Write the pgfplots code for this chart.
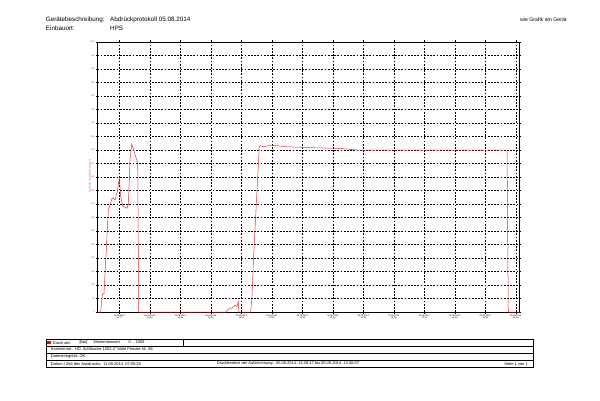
\documentclass[border=0pt]{standalone}
\usepackage{fontspec}
\setmainfont{Liberation Sans}
\usepackage{pgfplots}
\pgfplotsset{compat=1.18}
\definecolor{curve}{RGB}{238,50,55}
\pgfplotstableread{
t p
16.9 0
23.4 0
26.6 65
29.9 68
38.4 378
41.7 396
46.2 423
51.5 415
56.1 446
60.0 495
62.8 427
66.7 393
74.6 384
77.7 396
81.1 563
84.4 622
87.5 606
94.2 563
96.2 551
98.2 0
269.9 0
273.8 10
281.7 15
287.6 25
291.6 20
294.1 38
295.5 0
318.5 0
321.1 60
323.6 180
330.3 427
335.4 612
336.8 616
343.3 612
359.8 618
389.3 612
448.3 608
494.2 606
527.7 600
631.9 600
822.8 600
825.3 0
847 0
}\druck
\begin{document}
\begin{tikzpicture}[x=1pt,y=1pt]
\path[use as bounding box, fill=white] (0,0) rectangle (600,400);
% header
\node[anchor=west, inner sep=0, font=\fontsize{6.3}{7}\selectfont] at (45.7,380) {Gerätebeschreibung:};
\node[anchor=west, inner sep=0, font=\fontsize{6.3}{7}\selectfont] at (110,380) {Abdrückprotokoll 05.08.2014};
\node[anchor=west, inner sep=0, font=\fontsize{6.3}{7}\selectfont] at (45.7,371.7) {Einbauort:};
\node[anchor=west, inner sep=0, font=\fontsize{6.3}{7}\selectfont] at (110,371.7) {HPS};
\node[anchor=west, inner sep=0, font=\fontsize{5.2}{6}\selectfont] at (520,380) {wie Grafik am Gerät};
% y label
\node[rotate=90, inner sep=0, text=curve, font=\fontsize{2.4}{3}\selectfont] at (90,224) {Druck akt. [bar] Momentanwert};
\begin{axis}[
  at={(97.4pt,88pt)}, anchor=south west, scale only axis,
  width=421.9pt, height=270pt,
  xmin=16.9, xmax=847, ymin=0, ymax=1000,
  xtick={60,120,...,840},
  xticklabels={{05.08.2014\\13:27},{05.08.2014\\13:28},{05.08.2014\\13:29},{05.08.2014\\13:30},{05.08.2014\\13:31},{05.08.2014\\13:32},{05.08.2014\\13:33},{05.08.2014\\13:34},{05.08.2014\\13:35},{05.08.2014\\13:36},{05.08.2014\\13:37},{05.08.2014\\13:38},{05.08.2014\\13:39},{05.08.2014\\13:40}},
  xticklabel style={align=center, font=\fontsize{2.2}{2.6}\selectfont, inner sep=1pt},
  ytick={0,50,...,1000},
  yticklabel style={text=curve, font=\fontsize{2.2}{2.6}\selectfont, inner sep=1pt},
  /pgf/number format/assume math mode=true,
  /pgf/number format/1000 sep={},
  grid=major,
  major grid style={black, line width=0.4pt, dash pattern=on 1.8pt off 1.4pt},
  tick align=outside, major tick length=1.5pt,
  tick style={black, line width=0.3pt},
  axis line style={black, line width=0.6pt},
]
\addplot[curve, line width=0.5pt, no marks] table[x=t, y=p] {\druck};
\end{axis}
% table
\begin{scope}[line width=0.4pt]
\draw (45.7,32.5) rectangle (532.7,60.7);
\draw (45.7,54) -- (532.7,54);
\draw (45.7,47) -- (532.7,47);
\draw (45.7,40) -- (532.7,40);
\draw (183.3,54) -- (183.3,60.7);
\end{scope}
\fill[red] (47.4,55.8) rectangle (50.8,59.2);
\begin{scope}[every node/.style={anchor=west, inner sep=0, font=\fontsize{4}{4.8}\selectfont}]
\node at (52.7,57.4) {Druck akt.};
\node at (79.3,57.4) {[bar]};
\node at (93.3,57.4) {Momentanwert};
\node at (128.3,57.4) {0 .. 1000};
\node at (50.7,50.5) {Kommentar:\ \ HD. Schläuche 1002-2" Male Female Nr. 86};
\node at (50.7,43.5) {Datenintegrität: OK};
\node at (50.7,36.2) {Datum / Zeit des Ausdrucks:\ \ 11.08.2014\ \ 07:05:29};
\node at (216.7,36.2) {Druckbereich der Aufzeichnung:\ \ 05.08.2014\ \ 13:26:17 bis 05.08.2014\ \ 13:40:07};
\node[anchor=east] at (528,36.2) {Seite 1 von 1};
\end{scope}
\end{tikzpicture}
\end{document}
